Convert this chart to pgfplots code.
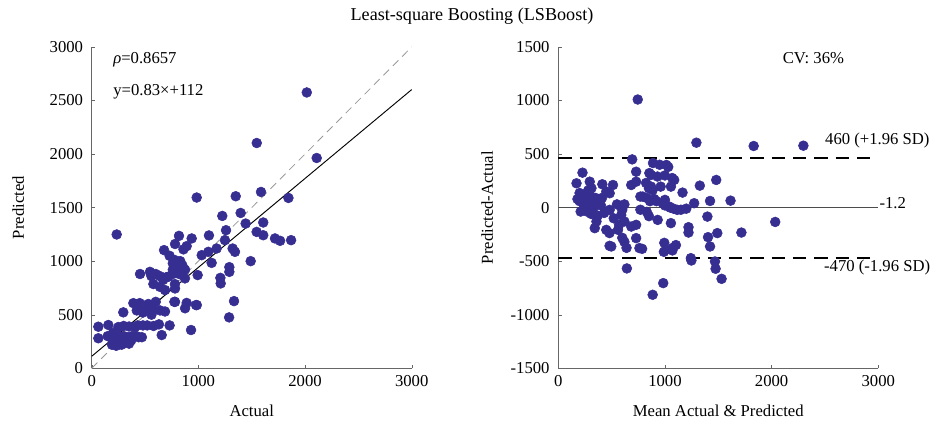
\documentclass[border=0pt]{standalone}
\usepackage{fontspec}
\setmainfont{Liberation Serif}
\usepackage{pgfplots}
\pgfplotsset{compat=1.18}
\definecolor{dotc}{RGB}{55,46,145}
\begin{document}
\begin{tikzpicture}[font=\fontsize{12.5}{14}\selectfont]
\path[use as bounding box] (0,0) rectangle (707.25pt,321pt);
\node[font=\fontsize{13.6}{15}\selectfont] at (354pt,309pt) {Least-square Boosting (LSBoost)};
\pgfplotsset{myax/.style={scale only axis, axis lines=left,
  axis line style={black!60,-}, tick style={black!60}, major tick length=2.5pt,
  tick align=inside, xmin=0, xmax=3000, xtick={0,1000,2000,3000},
  /pgf/number format/assume math mode=true, /pgf/number format/1000 sep={},
  clip=false, anchor=south west, width=240pt, height=241pt,
  xticklabel style={yshift=-2pt}, yticklabel style={xshift=-3pt},
  every axis x label/.style={at={(axis description cs:0.5,-0.133)}, anchor=center},
  every axis y label/.style={at={(axis description cs:-0.23,0.5)}, rotate=90, anchor=center}},
  dots/.style={only marks, mark=*, mark size=3.7pt, color=dotc, mark options={draw=dotc, fill=dotc}}}
\begin{axis}[myax, at={(68.8pt,44.8pt)}, ymin=0, ymax=3000, ytick={0,500,...,3000},
  xlabel={Actual}, ylabel={Predicted}]
\addplot[black!40, line width=0.6pt, dash pattern=on 6pt off 4pt] coordinates {(0,0) (3000,3000)};
\addplot[dots] coordinates {
(2016,2575)(1547,2103)(2109,1963)(984,1594)(1350,1606)(1587,1646)(1844,1590)(1224,1422)
(1396,1450)(1443,1351)(1608,1361)(234,1249)(1546,1273)(1608,1242)(1718,1212)(1766,1190)
(1869,1196)(1099,1240)(818,1236)(937,1212)(1259,1289)(781,1160)(890,1140)(860,1110)
(678,1103)(1031,1056)(1093,1087)(1171,1118)(1249,1196)(1321,1118)(1343,1087)(1124,984)
(1490,1000)(1290,944)(1290,900)(993,870)(1206,844)(1209,792)(874,839)(546,900)(600,880)
(640,860)(670,825)(640,760)(687,730)(730,1050)(780,1010)(760,980)(800,950)(830,1000)
(850,960)(875,920)(760,920)(820,880)(720,855)(781,745)(775,620)(890,610)(875,560)
(978,590)(1334,627)(1288,475)(931,357)
(62,388)(62,280)(156,404)(172,295)(200,264)(220,290)(260,300)(300,300)(340,290)(380,300)
(420,300)(440,290)(190,220)(230,210)(260,230)(310,240)(350,230)(250,385)(300,395)(350,390)
(405,385)(296,522)(390,608)(450,608)(422,540)(500,540)(580,545)(640,540)(687,530)(520,400)
(580,395)(630,410)(730,400)(656,310)(781,620)(985,590)(453,880)(560,860)(700,850)
(760,880)(820,900)(578,786)(780,786)(210,240)(240,260)(270,270)(280,220)(330,260)(370,260)
(470,290)(480,400)(430,400)(530,600)(600,620)(480,520)(560,500)(150,300)(200,330)
};
\addplot[black, line width=0.7pt] coordinates {(0,112) (3000,2602)};
\node[anchor=west, inner sep=0pt] at (axis cs:200,2883) {\textit{ρ}=0.8657};
\node[anchor=west, inner sep=0pt] at (axis cs:200,2584) {y=0.83×+112};
\end{axis}
\begin{axis}[myax, at={(418.7pt,44.8pt)}, ymin=-1500, ymax=1500, ytick={-1500,-1000,...,1500},
  xlabel={Mean Actual \& Predicted}, ylabel={Predicted-Actual},
  every axis y label/.style={at={(axis description cs:-0.222,0.5)}, rotate=90, anchor=center}]
\addplot[dots] coordinates {
(745,1009)(1295,606)(1832,575)(2298,578)(693,450)(227,326)(1481,258)(1615,65)(2034,-134)(1717,-233)
(171,227)(295,242)(311,181)(413,218)(513,211)(482,134)(684,211)(730,242)(730,335)
(888,416)(950,400)(1013,398)(1031,380)(870,305)(930,290)(1000,300)(1087,258)(854,322)(1068,276)
(870,196)(960,196)(1056,196)(823,230)(850,180)(885,164)(770,103)(830,90)(900,80)(1000,72)
(200,136)(250,110)(300,110)(200,60)(250,60)(300,50)(350,90)(410,90)(380,50)
(210,-37)(270,-37)(310,-60)(370,-75)(430,-50)(358,-130)(342,-192)
(482,-21)(550,30)(620,30)(600,-21)(590,-70)(620,-130)(684,-177)(730,-161)
(450,-208)(480,-238)(560,-208)(570,-160)(497,-363)(600,-282)(620,-320)(640,-376)(730,-285)(761,-378)
(770,-20)(830,-40)(850,-80)(932,-115)(1041,9)(1080,-10)(1115,-21)(1150,-20)(1200,-10)
(1010,-394)(1072,-376)(1165,140)(1327,205)(1423,62)(1274,41)
(792,103)(860,60)(920,60)(980,40)(1000,20)(1050,0)
(1398,-84)(1056,-145)(1221,-183)(1221,-233)(1491,-238)(1404,-276)(1423,-363)(994,-329)
(1103,-350)(1070,-400)(990,-413)(1243,-472)
(643,-568)(1248,-494)(1469,-503)(1475,-571)(1531,-665)(984,-705)(885,-814)(481,-357)(786,-385)
(240,20)(270,-10)(330,0)(400,20)(450,150)(180,80)(520,-100)(280,160)
};
\addplot[black!70, line width=1pt] coordinates {(0,-1.2) (3000,-1.2)};
\addplot[black, line width=1.5pt, dash pattern=on 10pt off 6pt] coordinates {(0,460) (2950,460)};
\addplot[black, line width=1.5pt, dash pattern=on 10pt off 6pt] coordinates {(0,-470) (2950,-470)};
\node[anchor=west, inner sep=0pt] at (axis cs:2500,622) {460 (+1.96 SD)};
\node[anchor=west, inner sep=0pt] at (axis cs:3010,45) {-1.2};
\node[anchor=west, inner sep=0pt] at (axis cs:2490,-563) {-470 (-1.96 SD)};
\node at (axis cs:2392,1395) {CV: 36\%};
\end{axis}
\end{tikzpicture}
\end{document}
